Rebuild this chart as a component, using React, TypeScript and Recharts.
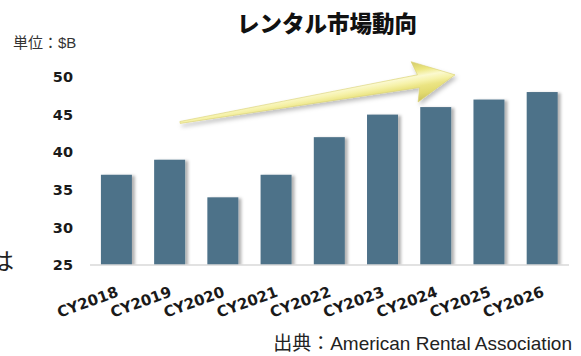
import React from 'react';
import { BarChart, Bar, XAxis, YAxis, ReferenceLine } from 'recharts';

// Rental market size by calendar year (US$ billions)
const years = ['CY2018', 'CY2019', 'CY2020', 'CY2021', 'CY2022', 'CY2023', 'CY2024', 'CY2025', 'CY2026'];
const marketSize = [37, 39, 34, 37, 42, 45, 46, 47, 48];
const yTicks = [25, 30, 35, 40, 45, 50];

// Trend arrow: guide line anchored on two categories (y in $B),
// and the share of that guide the arrow actually covers (tail, tip).
const trendAnchors = ['CY2019', 'CY2025'];
const trendLevels = [43.72, 51.07];
const trendSpan = [0.032, 0.893];

const data = years.map((year, i) => ({ year, value: marketSize[i] }));

const TICK_FONT = '"DejaVu Sans", Verdana, sans-serif';

const BarShape = (props: any) => {
  const { x, y, width, height, fill } = props;
  if (!height || height <= 0) return null;
  return <rect x={x} y={y} width={width} height={height} fill={fill} filter="url(#barShadow)" />;
};

const ArrowShape = (props: any) => {
  const { x1, y1, x2, y2 } = props;
  if ([x1, y1, x2, y2].some((v) => typeof v !== 'number' || isNaN(v))) return null;
  const sx = x1 + (x2 - x1) * trendSpan[0];
  const sy = y1 + (y2 - y1) * trendSpan[0];
  const ex = x1 + (x2 - x1) * trendSpan[1];
  const ey = y1 + (y2 - y1) * trendSpan[1];
  const dx = ex - sx;
  const dy = ey - sy;
  const len = Math.hypot(dx, dy);
  const ux = dx / len;
  const uy = dy / len;
  const nx = -uy;
  const ny = ux;
  const at = (s: number, t: number) => [sx + ux * s + nx * t, sy + uy * s + ny * t];
  const fmt = (p: number[]) => `${p[0].toFixed(2)},${p[1].toFixed(2)}`;
  const headLen = 40;
  const headHalf = 20.5;
  const shaftHalf = 6.5;
  const tailHalf = 1;
  const base = len - headLen;
  const pts = [
    at(0, -tailHalf),
    at(base + 3, -shaftHalf),
    at(base - 1, -headHalf),
    at(len, 0),
    at(base - 1, headHalf),
    at(base + 3, shaftHalf),
    at(0, tailHalf),
  ]
    .map(fmt)
    .join(' ');
  const g1 = at(base, -headHalf);
  const g2 = at(base, headHalf);
  return (
    <g>
      <defs>
        <linearGradient id="arrowFill" gradientUnits="userSpaceOnUse" x1={g1[0]} y1={g1[1]} x2={g2[0]} y2={g2[1]}>
          <stop offset="0" stopColor="#d2ca6a" />
          <stop offset="0.22" stopColor="#ece67f" />
          <stop offset="0.38" stopColor="#fbf9cf" />
          <stop offset="0.5" stopColor="#f6f2aa" />
          <stop offset="0.62" stopColor="#ebe483" />
          <stop offset="0.8" stopColor="#e2da6f" />
          <stop offset="1" stopColor="#c9c05c" />
        </linearGradient>
      </defs>
      <polygon points={pts} fill="url(#arrowFill)" stroke="#d8d070" strokeWidth={0.6} filter="url(#arrowShadow)" />
    </g>
  );
};

export default function App() {
  return (
    <div
      style={{
        position: 'absolute',
        left: 0,
        top: 0,
        width: 581,
        height: 356,
        background: '#ffffff',
        overflow: 'hidden',
      }}
    >
      <BarChart
        width={581}
        height={356}
        data={data}
        margin={{ top: 77, right: 12, bottom: 0, left: 0 }}
        barCategoryGap="20.5%"
      >
        <defs>
          <filter id="barShadow" x="-20%" y="-10%" width="150%" height="120%">
            <feDropShadow dx="3" dy="1" stdDeviation="1.6" floodColor="#000" floodOpacity="0.3" />
          </filter>
          <filter id="arrowShadow" x="-10%" y="-30%" width="120%" height="180%">
            <feDropShadow dx="2" dy="3" stdDeviation="2" floodColor="#000" floodOpacity="0.25" />
          </filter>
        </defs>
        <XAxis
          dataKey="year"
          height={91}
          interval={0}
          tickLine={false}
          tickSize={0}
          tickMargin={21}
          angle={-20}
          textAnchor="end"
          axisLine={{ stroke: '#d9d9d9', strokeWidth: 1.5 }}
          tick={{ fontFamily: TICK_FONT, fontWeight: 'bold', fontSize: 15, fill: '#1a1a1a', dx: -1 }}
        />
        <YAxis
          width={90}
          domain={[25, 50]}
          ticks={yTicks}
          interval={0}
          allowDataOverflow
          axisLine={false}
          tickLine={false}
          tickSize={0}
          tickMargin={17}
          tick={{ fontFamily: TICK_FONT, fontWeight: 'bold', fontSize: 14.5, fill: '#1a1a1a' }}
        />
        <Bar dataKey="value" fill="#4e7289" isAnimationActive={false} shape={<BarShape />} />
        <ReferenceLine
          segment={[
            { x: trendAnchors[0], y: trendLevels[0] },
            { x: trendAnchors[1], y: trendLevels[1] },
          ]}
          ifOverflow="visible"
          shape={<ArrowShape />}
        />
      </BarChart>

      <div
        style={{
          position: 'absolute',
          left: 0,
          width: 654,
          top: 9,
          textAlign: 'center',
          fontFamily: '"Noto Sans CJK JP", sans-serif',
          fontWeight: 900,
          fontSize: 22.5,
          lineHeight: '26px',
          color: '#111',
        }}
      >
        レンタル市場動向
      </div>

      <div
        style={{
          position: 'absolute',
          left: 13,
          top: 34,
          fontFamily: '"Liberation Sans", "Noto Sans CJK JP", sans-serif',
          fontSize: 15,
          lineHeight: '18px',
          color: '#333',
          whiteSpace: 'nowrap',
        }}
      >
        単位：$B
      </div>

      <div
        style={{
          position: 'absolute',
          left: -10,
          top: 246,
          fontFamily: '"Noto Sans CJK JP", sans-serif',
          fontSize: 24,
          lineHeight: '28px',
          color: '#222',
        }}
      >
        は
      </div>

      <div
        style={{
          position: 'absolute',
          right: 9,
          top: 333,
          fontFamily: '"Liberation Sans", "Noto Sans CJK JP", sans-serif',
          fontSize: 19,
          lineHeight: '22px',
          color: '#222',
          whiteSpace: 'nowrap',
        }}
      >
        出典：American Rental Association
      </div>
    </div>
  );
}
